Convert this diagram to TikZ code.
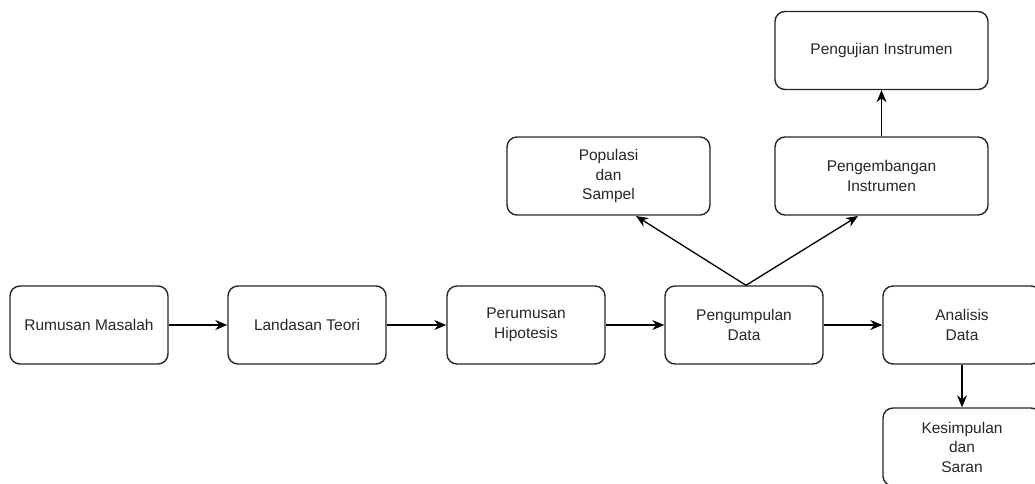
\documentclass[tikz,border=0pt]{standalone}
\usepackage{fontspec}
\setmainfont{Liberation Sans}
\usetikzlibrary{arrows.meta}
\begin{document}
\begin{tikzpicture}[x=1pt,y=-1pt,
  box/.style={draw=black!85,line width=1.4pt,rounded corners=10pt,minimum width=158pt,minimum height=78pt,align=center,inner sep=0pt,font=\fontsize{15.5}{19.5}\selectfont,text=black!85},
  wbox/.style={box,minimum width=213pt},
  conn/.style={line width=1.3pt,-{Stealth[length=12pt,width=10pt]}}]
\useasboundingbox (0,0) rectangle (1035,483);
\node[box] (rm) at (89,325) {Rumusan Masalah};
\node[box] (lt) at (307,325) {Landasan Teori};
\node[box] (ph) at (526,325) {Perumusan\\Hipotesis};
\node[box] (pd) at (744,325) {Pengumpulan\\Data};
\node[box] (ad) at (962,325) {Analisis\\Data};
\node[box] (ks) at (962,447) {Kesimpulan\\dan\\Saran};
\node[box,minimum width=203pt] (ps) at (608.5,176) {Populasi\\dan\\Sampel};
\node[wbox] (pi) at (881.5,176) {Pengembangan\\Instrumen};
\node[wbox] (pu) at (881.5,50.5) {Pengujian Instrumen};
\draw[conn] (rm) -- (lt);
\draw[conn] (lt) -- (ph);
\draw[conn] (ph) -- (pd);
\draw[conn] (pd) -- (ad);
\draw[conn] (ad) -- (ks);
\draw[conn] (pi) -- (pu);
\draw[conn] ([xshift=2pt]pd.north) -- (636,216);
\draw[conn] ([xshift=2pt]pd.north) -- (858,216);
\end{tikzpicture}
\end{document}
